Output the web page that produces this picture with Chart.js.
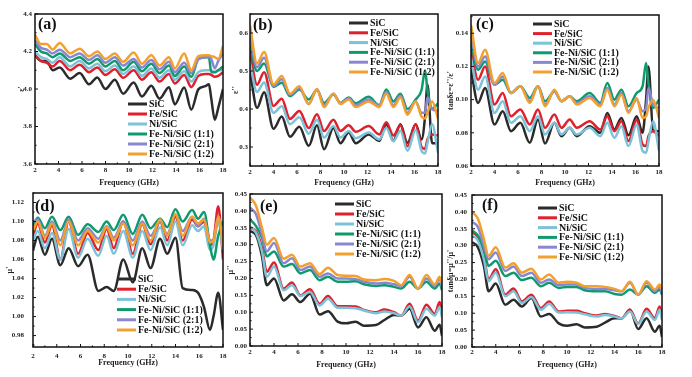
<!DOCTYPE html>
<html>
<head>
<meta charset="utf-8">
<script src="https://cdn.jsdelivr.net/npm/chart.js@4.4.1/dist/chart.umd.min.js"></script>
<style>
  body { margin: 0; background: #fff; }
  #wrap { position: relative; width: 692px; height: 377px; overflow: hidden; }
  #wrap canvas { position: absolute; }
</style>
</head>
<body>
<div id="wrap"></div>
<script>
// sample names, same order in every panel
const samples = ['SiC', 'Fe/SiC', 'Ni/SiC', 'Fe-Ni/SiC (1:1)', 'Fe-Ni/SiC (2:1)', 'Fe-Ni/SiC (1:2)'];
const colors = ['#2b2b2b', '#e0202c', '#7cc2d8', '#0f9a6e', '#8a86d2', '#f2a02e'];

const freqTicks = [2, 4, 6, 8, 10, 12, 14, 16, 18];

// (a) real permittivity
const freqA = [2, 2.5, 3.0, 3.5, 4.1, 5.0, 5.8, 6.6, 7.3, 8.0, 8.8, 9.5, 10.4, 11.1, 11.9, 12.6, 13.4, 13.9, 14.7, 15.3, 15.9, 16.5, 16.8, 17.0, 17.3, 17.6, 18];
const epsReal = [
  [4.18, 4.15, 4.15, 4.10, 4.115, 4.055, 4.085, 4.025, 4.062, 4.0, 4.05, 3.975, 4.035, 3.96, 4.017, 3.948, 4.01, 3.918, 4.008, 3.89, 3.998, 4.015, 4.025, 3.95, 3.836, 3.90, 4.0],
  [4.18, 4.15, 4.14, 4.12, 4.15, 4.10, 4.13, 4.09, 4.115, 4.075, 4.105, 4.06, 4.10, 4.05, 4.09, 4.04, 4.08, 4.03, 4.075, 4.01, 4.07, 4.08, 4.08, 4.075, 4.065, 4.07, 4.09],
  [4.20, 4.17, 4.16, 4.14, 4.17, 4.12, 4.15, 4.11, 4.135, 4.095, 4.125, 4.08, 4.12, 4.07, 4.11, 4.06, 4.10, 4.05, 4.095, 4.04, 4.09, 4.10, 4.10, 4.10, 4.09, 4.10, 4.10],
  [4.24, 4.20, 4.19, 4.17, 4.19, 4.15, 4.17, 4.135, 4.16, 4.12, 4.15, 4.10, 4.145, 4.095, 4.135, 4.085, 4.125, 4.07, 4.12, 4.065, 4.16, 4.17, 4.17, 4.09, 4.09, 4.10, 4.12],
  [4.26, 4.22, 4.21, 4.19, 4.21, 4.17, 4.19, 4.155, 4.18, 4.14, 4.17, 4.125, 4.16, 4.115, 4.155, 4.105, 4.145, 4.09, 4.14, 4.085, 4.16, 4.17, 4.17, 4.16, 4.11, 4.15, 4.19],
  [4.29, 4.24, 4.24, 4.21, 4.245, 4.19, 4.215, 4.175, 4.20, 4.16, 4.19, 4.145, 4.195, 4.135, 4.18, 4.125, 4.17, 4.11, 4.19, 4.10, 4.175, 4.18, 4.18, 4.175, 4.17, 4.16, 4.23]
];
const ticksA = [3.6, 3.8, 4.0, 4.2, 4.4];

// (b) imaginary permittivity, (c) dielectric loss tangent
const freqBC = [2, 2.6, 3.2, 4.0, 4.7, 5.4, 6.2, 7.0, 7.7, 8.3, 9.1, 9.7, 10.4, 11.0, 12.1, 13.0, 13.6, 14.2, 14.8, 15.4, 16.1, 16.6, 16.9, 17.1, 17.5, 18];
const epsImag = [
  [0.50, 0.403, 0.444, 0.348, 0.38, 0.327, 0.353, 0.303, 0.357, 0.294, 0.35, 0.31, 0.338, 0.31, 0.333, 0.316, 0.36, 0.316, 0.36, 0.311, 0.36, 0.32, 0.38, 0.465, 0.31, 0.31],
  [0.55, 0.464, 0.497, 0.408, 0.427, 0.374, 0.395, 0.35, 0.386, 0.342, 0.372, 0.342, 0.357, 0.34, 0.355, 0.333, 0.365, 0.33, 0.357, 0.302, 0.36, 0.30, 0.295, 0.32, 0.333, 0.33],
  [0.52, 0.445, 0.47, 0.39, 0.407, 0.36, 0.378, 0.335, 0.372, 0.325, 0.355, 0.325, 0.342, 0.323, 0.338, 0.32, 0.35, 0.315, 0.343, 0.29, 0.345, 0.29, 0.283, 0.31, 0.36, 0.285],
  [0.57, 0.50, 0.52, 0.458, 0.469, 0.434, 0.451, 0.425, 0.45, 0.416, 0.438, 0.416, 0.43, 0.415, 0.432, 0.41, 0.451, 0.42, 0.44, 0.40, 0.425, 0.45, 0.502, 0.45, 0.40, 0.415],
  [0.59, 0.51, 0.535, 0.46, 0.478, 0.438, 0.455, 0.413, 0.452, 0.41, 0.44, 0.415, 0.428, 0.41, 0.425, 0.41, 0.445, 0.41, 0.435, 0.39, 0.42, 0.39, 0.39, 0.43, 0.40, 0.395],
  [0.62, 0.52, 0.55, 0.465, 0.487, 0.44, 0.46, 0.413, 0.452, 0.405, 0.44, 0.413, 0.425, 0.405, 0.42, 0.405, 0.44, 0.405, 0.43, 0.385, 0.42, 0.38, 0.375, 0.39, 0.42, 0.375]
];
const ticksB = [0.3, 0.4, 0.5, 0.6];
const tanDe = [
  [0.118, 0.098, 0.107, 0.085, 0.093, 0.081, 0.086, 0.074, 0.088, 0.0735, 0.086, 0.078, 0.083, 0.078, 0.084, 0.08, 0.092, 0.082, 0.089, 0.0785, 0.09, 0.08, 0.1, 0.12, 0.0815, 0.081],
  [0.13, 0.112, 0.12, 0.097, 0.104, 0.09, 0.094, 0.085, 0.094, 0.083, 0.091, 0.083, 0.088, 0.083, 0.087, 0.082, 0.09, 0.081, 0.087, 0.075, 0.088, 0.073, 0.072, 0.078, 0.081, 0.078],
  [0.125, 0.106, 0.114, 0.092, 0.099, 0.086, 0.09, 0.081, 0.09, 0.079, 0.086, 0.079, 0.083, 0.079, 0.083, 0.078, 0.086, 0.077, 0.084, 0.072, 0.085, 0.069, 0.068, 0.075, 0.087, 0.069],
  [0.135, 0.118, 0.123, 0.109, 0.112, 0.104, 0.108, 0.101, 0.108, 0.099, 0.105, 0.099, 0.102, 0.099, 0.104, 0.098, 0.11, 0.1, 0.106, 0.096, 0.104, 0.108, 0.122, 0.11, 0.095, 0.1],
  [0.14, 0.12, 0.126, 0.109, 0.114, 0.104, 0.108, 0.099, 0.108, 0.097, 0.105, 0.099, 0.102, 0.098, 0.102, 0.097, 0.107, 0.097, 0.104, 0.093, 0.1, 0.093, 0.095, 0.107, 0.097, 0.095],
  [0.145, 0.122, 0.13, 0.11, 0.116, 0.104, 0.108, 0.098, 0.108, 0.096, 0.106, 0.099, 0.102, 0.097, 0.101, 0.096, 0.106, 0.096, 0.103, 0.092, 0.101, 0.089, 0.09, 0.095, 0.1, 0.089]
];
const ticksC = [0.06, 0.08, 0.10, 0.12, 0.14];

// (d) real permeability
const freqD = [2, 2.4, 3.0, 3.6, 4.3, 5.0, 5.8, 6.6, 7.5, 8.2, 8.8, 9.6, 10.4, 11.2, 11.9, 12.7, 13.3, 14.0, 14.6, 15.4, 15.9, 16.4, 16.9, 17.2, 17.6, 18];
const muReal = [
  [1.07, 1.084, 1.065, 1.082, 1.054, 1.072, 1.053, 1.065, 1.027, 1.031, 1.027, 1.06, 1.036, 1.072, 1.051, 1.082, 1.066, 1.083, 1.03, 1.028, 1.025, 1.01, 0.986, 1.0, 1.025, 0.986],
  [1.085, 1.098, 1.078, 1.096, 1.06, 1.1, 1.066, 1.088, 1.07, 1.092, 1.072, 1.1, 1.066, 1.097, 1.076, 1.1, 1.08, 1.105, 1.08, 1.102, 1.095, 1.1, 1.075, 1.08, 1.116, 1.06],
  [1.08, 1.09, 1.072, 1.088, 1.06, 1.092, 1.062, 1.082, 1.064, 1.085, 1.066, 1.09, 1.062, 1.09, 1.07, 1.094, 1.075, 1.1, 1.075, 1.096, 1.09, 1.095, 1.07, 1.075, 1.1, 1.07],
  [1.095, 1.104, 1.093, 1.105, 1.091, 1.105, 1.086, 1.097, 1.089, 1.1, 1.091, 1.107, 1.087, 1.107, 1.093, 1.103, 1.094, 1.113, 1.1, 1.112, 1.103, 1.11, 1.075, 1.06, 1.085, 1.1],
  [1.1, 1.102, 1.085, 1.1, 1.08, 1.102, 1.08, 1.093, 1.082, 1.095, 1.083, 1.1, 1.08, 1.1, 1.085, 1.1, 1.087, 1.107, 1.09, 1.105, 1.095, 1.103, 1.08, 1.08, 1.105, 1.08],
  [1.09, 1.1, 1.083, 1.098, 1.075, 1.1, 1.075, 1.09, 1.078, 1.094, 1.08, 1.098, 1.075, 1.098, 1.08, 1.102, 1.085, 1.108, 1.085, 1.105, 1.098, 1.102, 1.078, 1.08, 1.105, 1.075]
];
const ticksD = [0.98, 1.00, 1.02, 1.04, 1.06, 1.08, 1.10, 1.12];

// (e) imaginary permeability, (f) magnetic loss tangent
const freqEF = [2, 2.5, 3.0, 3.4, 4.0, 4.8, 5.5, 6.2, 7.0, 7.8, 8.5, 9.3, 10, 10.8, 11.5, 12.5, 13.2, 14, 14.6, 15.3, 16.0, 16.7, 17.4, 17.8, 18];
const muImag = [
  [0.34, 0.328, 0.265, 0.18, 0.2, 0.135, 0.153, 0.13, 0.155, 0.093, 0.103, 0.072, 0.067, 0.072, 0.06, 0.062, 0.077, 0.092, 0.09, 0.11, 0.055, 0.085, 0.045, 0.063, 0.03],
  [0.35, 0.34, 0.29, 0.22, 0.247, 0.17, 0.188, 0.15, 0.168, 0.125, 0.148, 0.118, 0.118, 0.117, 0.107, 0.1, 0.108, 0.1, 0.09, 0.125, 0.075, 0.122, 0.095, 0.13, 0.1],
  [0.355, 0.335, 0.28, 0.205, 0.235, 0.165, 0.18, 0.148, 0.16, 0.12, 0.14, 0.113, 0.113, 0.112, 0.105, 0.097, 0.102, 0.097, 0.09, 0.117, 0.07, 0.11, 0.09, 0.115, 0.085],
  [0.375, 0.355, 0.32, 0.265, 0.28, 0.235, 0.243, 0.215, 0.225, 0.195, 0.205, 0.19, 0.19, 0.192, 0.183, 0.178, 0.18, 0.175, 0.17, 0.19, 0.17, 0.19, 0.17, 0.185, 0.165],
  [0.41, 0.39, 0.33, 0.28, 0.305, 0.245, 0.26, 0.225, 0.235, 0.205, 0.215, 0.2, 0.2, 0.198, 0.19, 0.185, 0.187, 0.183, 0.178, 0.205, 0.17, 0.2, 0.178, 0.2, 0.175],
  [0.44, 0.415, 0.35, 0.3, 0.32, 0.258, 0.27, 0.235, 0.245, 0.213, 0.232, 0.21, 0.208, 0.207, 0.197, 0.195, 0.198, 0.193, 0.18, 0.21, 0.17, 0.21, 0.182, 0.205, 0.185]
];
const tanDm = [
  [0.31, 0.295, 0.24, 0.165, 0.188, 0.125, 0.14, 0.12, 0.145, 0.09, 0.098, 0.07, 0.063, 0.067, 0.058, 0.06, 0.072, 0.085, 0.085, 0.11, 0.053, 0.085, 0.045, 0.063, 0.03],
  [0.34, 0.325, 0.27, 0.2, 0.23, 0.155, 0.173, 0.135, 0.155, 0.115, 0.135, 0.105, 0.107, 0.107, 0.1, 0.093, 0.098, 0.092, 0.085, 0.11, 0.07, 0.113, 0.085, 0.12, 0.09],
  [0.33, 0.315, 0.26, 0.195, 0.22, 0.15, 0.165, 0.13, 0.148, 0.11, 0.128, 0.102, 0.103, 0.102, 0.097, 0.09, 0.095, 0.09, 0.085, 0.105, 0.068, 0.105, 0.08, 0.11, 0.08],
  [0.345, 0.33, 0.29, 0.24, 0.255, 0.21, 0.22, 0.198, 0.205, 0.18, 0.19, 0.175, 0.178, 0.178, 0.168, 0.165, 0.165, 0.157, 0.155, 0.17, 0.155, 0.18, 0.16, 0.17, 0.155],
  [0.37, 0.355, 0.3, 0.26, 0.28, 0.225, 0.238, 0.21, 0.22, 0.19, 0.2, 0.183, 0.185, 0.185, 0.175, 0.172, 0.172, 0.168, 0.165, 0.19, 0.155, 0.19, 0.165, 0.18, 0.16],
  [0.4, 0.38, 0.32, 0.27, 0.295, 0.235, 0.248, 0.22, 0.232, 0.2, 0.215, 0.19, 0.193, 0.19, 0.18, 0.18, 0.178, 0.172, 0.165, 0.193, 0.155, 0.195, 0.17, 0.185, 0.17]
];
const ticksEF = [0, 0.05, 0.10, 0.15, 0.20, 0.25, 0.30, 0.35, 0.40, 0.45];

const SERIF = "'Liberation Serif', 'Times New Roman', serif";

// layout of the six panels (page pixels of the plot box)
const panels = [
  {tag: '(a)', freq: freqA, rows: epsReal, yTicks: ticksA, dec: 1, yMin: 3.6, yMax: 4.4, yTitle: "ε'",
   L: 35, R: 223, T: 14, B: 164, titleX: 22, gap: 3, xLab: 6, xTitle: 19, tagX: 38, tagY: 25, leg: [128, 104, 10]},
  {tag: '(b)', freq: freqBC, rows: epsImag, yTicks: ticksB, dec: 1, yMin: 0.25, yMax: 0.65, yTitle: "ε''",
   L: 250, R: 438, T: 14, B: 166, titleX: 236, gap: 2, xLab: 6, xTitle: 17, tagX: 253, tagY: 26, leg: [349, 23, 9.8]},
  {tag: '(c)', freq: freqBC, rows: tanDe, yTicks: ticksC, dec: 2, yMin: 0.06, yMax: 0.151, yTitle: "tanδε=ε''/ε'",
   L: 471, R: 659, T: 15, B: 166, titleX: 451, gap: 3, xLab: 6, xTitle: 17, tagX: 476, tagY: 25, leg: [533, 24, 9.6]},
  {tag: '(d)', freq: freqD, rows: muReal, yTicks: ticksD, dec: 2, yMin: 0.968, yMax: 1.13, yTitle: "μ'",
   L: 33, R: 223, T: 193, B: 347, titleX: 10, gap: 9, xLab: 9, xTitle: 16, tagX: 35, tagY: 207, leg: [117, 279, 10.2]},
  {tag: '(e)', freq: freqEF, rows: muImag, yTicks: ticksEF, dec: 2, yMin: 0, yMax: 0.45, yTitle: "μ''",
   L: 250, R: 442, T: 194, B: 346, titleX: 231, gap: 3, xLab: 6, xTitle: 19, tagX: 260, tagY: 207, leg: [335, 204, 10]},
  {tag: '(f)', freq: freqEF, rows: tanDm, yTicks: ticksEF, dec: 2, yMin: 0, yMax: 0.45, yTitle: "tanδμ=μ''/μ'",
   L: 472, R: 662, T: 195, B: 347, titleX: 451, gap: 5, xLab: 5, xTitle: 18, tagX: 482, tagY: 206, leg: [538, 208, 9.8]}
];

// box, inward ticks, legend and panel letter
const framePlugin = {
  id: 'frame',
  afterDraw(chart, args, o) {
    const {ctx, chartArea: a, scales: {x, y}} = chart;
    ctx.save();
    ctx.strokeStyle = '#111';
    ctx.lineWidth = 1;
    ctx.beginPath();
    for (let v = 2; v <= 18; v++) {
      const px = x.getPixelForValue(v);
      const len = v % 2 === 0 ? 3 : 1.6;
      ctx.moveTo(px, a.bottom); ctx.lineTo(px, a.bottom - len);
    }
    const yt = o.yTicks;
    const step = yt[1] - yt[0];
    for (let v = yt[0] - step; v <= yt[yt.length - 1] + step + 1e-9; v += step / 2) {
      if (v < y.min - 1e-9 || v > y.max + 1e-9) continue;
      const py = y.getPixelForValue(v);
      const major = yt.some(t => Math.abs(t - v) < 1e-9);
      ctx.moveTo(a.left, py); ctx.lineTo(a.left + (major ? 3 : 1.6), py);
    }
    ctx.stroke();
    ctx.lineWidth = 1.5;
    ctx.strokeRect(a.left, a.top, a.right - a.left, a.bottom - a.top);

    // legend
    const [lx, ly, dy] = o.leg;
    ctx.font = 'bold 10px ' + SERIF;
    ctx.textBaseline = 'middle';
    ctx.textAlign = 'left';
    chart.data.datasets.forEach((ds, i) => {
      const yy = ly - o.top + i * dy;
      const xx = lx - o.left;
      ctx.strokeStyle = ds.borderColor;
      ctx.lineWidth = 3;
      ctx.beginPath(); ctx.moveTo(xx, yy); ctx.lineTo(xx + 19, yy); ctx.stroke();
      ctx.fillStyle = '#111';
      ctx.fillText(ds.label, xx + 21, yy + 0.5);
    });

    ctx.font = 'bold 16px ' + SERIF;
    ctx.fillStyle = '#111';
    ctx.fillText(o.tag, o.tagX - o.left, o.tagY - o.top);
    ctx.restore();
  }
};

const wrap = document.getElementById('wrap');
panels.forEach(p => {
  const left = p.titleX - 10, top = p.T - 8;
  const w = p.R + 10 - left, h = p.B + 30 - top;
  const cv = document.createElement('canvas');
  cv.width = w; cv.height = h;
  cv.style.left = left + 'px'; cv.style.top = top + 'px';
  cv.style.width = w + 'px'; cv.style.height = h + 'px';
  wrap.appendChild(cv);

  const datasets = p.rows.map((vals, i) => ({
    label: samples[i],
    data: p.freq.map((f, k) => ({x: f, y: vals[k]})),
    borderColor: colors[i],
    borderWidth: 2.5,
    pointRadius: 0,
    cubicInterpolationMode: 'monotone',
    order: samples.length - i
  }));

  const yWidth = p.L - left;
  new Chart(cv, {
    type: 'line',
    data: {datasets},
    options: {
      responsive: false,
      animation: false,
      devicePixelRatio: 1,
      layout: {padding: {left: 0, top: 8, right: 10, bottom: 0}},
      plugins: {
        legend: {display: false},
        tooltip: {enabled: false},
        frame: {yTicks: p.yTicks, leg: p.leg, tag: p.tag, tagX: p.tagX, tagY: p.tagY, left, top}
      },
      scales: {
        x: {
          type: 'linear', min: 2, max: 18,
          grid: {display: false, drawTicks: false, tickLength: 0},
          border: {display: false},
          afterBuildTicks: s => { s.ticks = freqTicks.map(v => ({value: v})); },
          afterFit: s => { s.height = 30; s.paddingLeft = 0; s.paddingRight = 0; },
          ticks: {autoSkip: false, maxRotation: 0, padding: p.xLab - 4.2, color: '#222',
                  font: {family: SERIF, size: 7, weight: 'bold'}},
          title: {display: true, text: 'Frequency (GHz)', color: '#222',
                  padding: {top: 0, bottom: 30 - p.xTitle - 4.8},
                  font: {family: SERIF, size: 8, weight: 'bold'}}
        },
        y: {
          min: p.yMin, max: p.yMax,
          grid: {display: false, drawTicks: false, tickLength: 0},
          border: {display: false},
          afterBuildTicks: s => { s.ticks = p.yTicks.map(v => ({value: v})); },
          afterFit: s => { s.width = yWidth; s.paddingTop = 0; s.paddingBottom = 0; },
          ticks: {autoSkip: false, padding: p.gap, color: '#222',
                  font: {family: SERIF, size: 7, weight: 'bold'},
                  callback: v => Number(v).toFixed(p.dec)},
          title: {display: true, text: p.yTitle, color: '#222',
                  padding: {top: 10 - 4.8, bottom: 0},
                  font: {family: SERIF, size: 8, weight: 'bold'}}
        }
      }
    },
    plugins: [framePlugin]
  });
});
</script>
</body>
</html>
